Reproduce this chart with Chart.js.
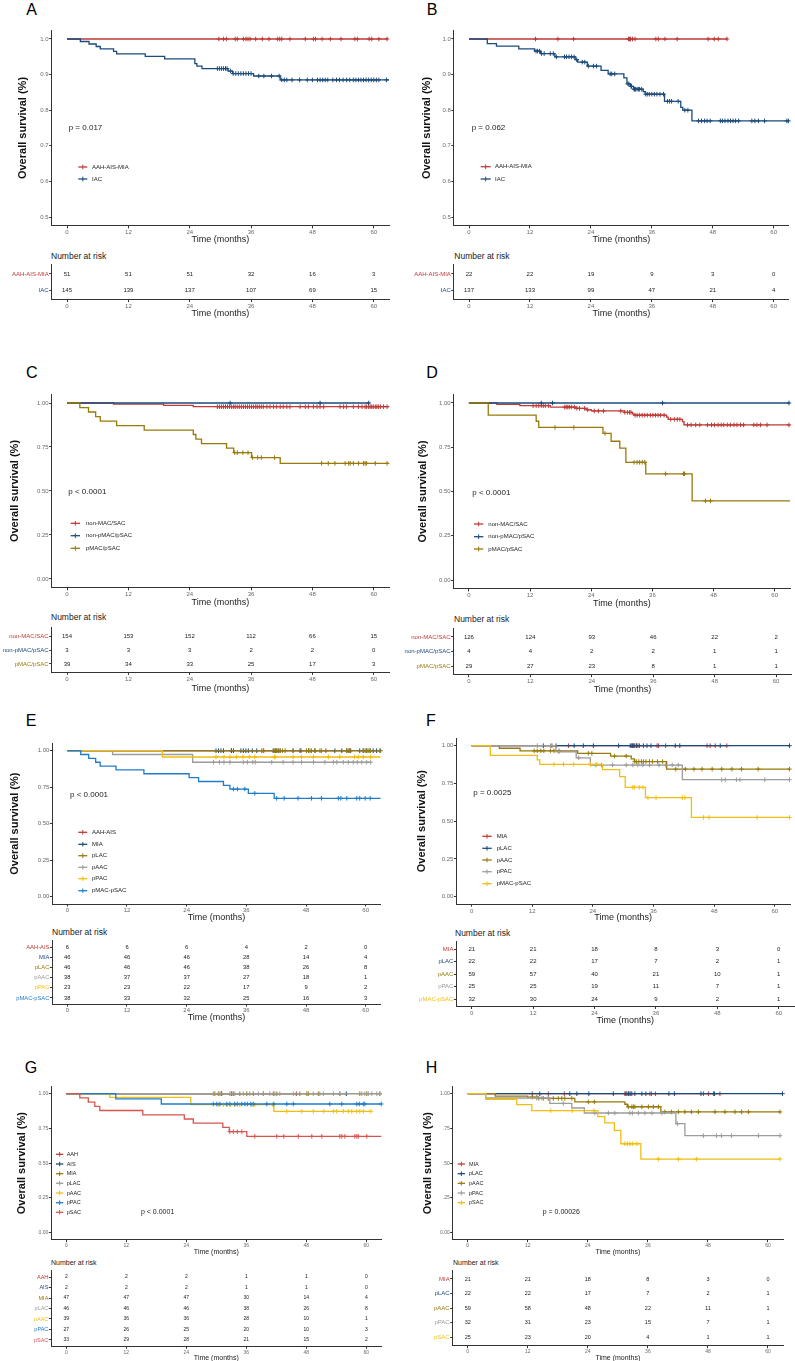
<!DOCTYPE html>
<html><head><meta charset="utf-8">
<script src="https://cdn.jsdelivr.net/npm/chart.js@4.4.1/dist/chart.umd.min.js"></script>
<style>
html,body{margin:0;padding:0;background:#fff}
body{width:795px;height:1361px;position:relative;overflow:hidden;font-family:"Liberation Sans",Arial,Helvetica,sans-serif}
canvas{position:absolute}
.t{position:absolute;white-space:nowrap;color:#1a1a1a;line-height:1.2}
.lt{position:absolute;white-space:nowrap;color:#000;font-size:16px;line-height:1;transform:translate(-50%,-50%)}
</style></head><body>
<script>
// ===== DATA =====
const xTickVals=[0,12,24,36,48,60];
const riskTimes=[0,12,24,36,48,60];

// Panel A
const A_groups=['AAH-AIS-MIA','IAC'];
const A1_time=[0,62.8], A1_surv=[1,1];
const A1_cens=[29.7,30.6,31.2,32.9,33.3,34.5,35.0,35.4,35.8,36.9,38.2,39.5,41.2,41.6,42.0,43.6,46.6,48.2,48.6,49.9,51.5,53.6,56.3,56.8,59.1,59.6,61.0,62.6];
const A2_time=[0,2.6,4.3,5.7,6.5,9.1,9.7,15.3,19.1,25.0,25.4,26.4,31.5,32.4,36.5,41.7,63];
const A2_surv=[1,0.993,0.986,0.979,0.972,0.965,0.958,0.951,0.944,0.931,0.924,0.917,0.910,0.903,0.896,0.885,0.885];
const A2_cens=[29.4,29.8,30.2,30.6,31.0,31.3,32.0,32.5,33.0,33.5,34.0,34.5,35.0,35.5,36.0,37.5,38.5,40.0,41.5,42.0,42.5,43.0,44.0,45.5,47.0,48.0,49.0,49.5,50.0,50.5,51.0,52.0,52.7,53.3,54.0,54.7,55.3,56.0,56.5,57.0,57.5,58.0,58.5,59.0,59.5,60.0,60.5,61.0,62.5];
const A_risk1=[51,51,51,32,16,3], A_risk2=[145,139,137,107,69,15];

// Panel B
const B_groups=['AAH-AIS-MIA','IAC'];
const B1_time=[0,50.9], B1_surv=[1,1];
const B1_cens=[13.1,17.5,20.6,31.4,31.6,31.8,32.2,32.7,36.8,37.3,38.6,41.0,47.1,48.3,49.1,50.8];
const B2_time=[0,3.6,5.4,9.8,12.9,14.1,16.9,20.9,21.4,23.3,26.0,27.4,30.5,31.1,31.8,32.4,34.3,34.7,38.5,41.7,42.1,43.9,63];
const B2_surv=[1,0.987,0.980,0.972,0.966,0.959,0.950,0.942,0.935,0.924,0.912,0.902,0.891,0.874,0.867,0.859,0.852,0.845,0.825,0.808,0.800,0.770,0.770];
const B2_cens=[13.2,13.5,13.9,14.3,14.8,16.0,16.6,17.2,18.8,19.2,19.7,20.2,20.7,21.2,22.3,22.8,23.5,24.5,25.1,27.8,28.1,28.7,31.3,31.5,31.9,32.0,32.5,32.6,32.8,33.1,33.4,33.6,34.0,34.8,35.1,35.5,36.0,36.5,37.0,37.6,38.3,39.1,39.5,39.9,41.2,42.5,43.1,45.2,45.8,46.4,46.9,47.5,49.5,49.9,50.4,51.0,51.5,52.0,52.5,53.1,55.7,56.3,57.0,58.2,62.6,62.9];
const B_risk1=[22,22,19,9,3,0], B_risk2=[137,133,99,47,21,4];

// Panel C
const C_groups=['non-MAC/SAC','non-pMAC/pSAC','pMAC/pSAC'];
const C1_time=[0,9.1,18.9,24.7,63], C1_surv=[1,0.994,0.987,0.979,0.979];
const C1_cens=[29.4,29.8,30.2,30.6,31.0,31.4,31.8,32.2,32.6,32.9,33.3,33.7,34.1,34.5,34.9,35.3,35.7,36.1,36.5,36.9,37.2,37.6,38.0,38.4,39.1,39.7,40.4,41.0,41.7,42.3,43.0,43.6,45.6,46.6,47.2,48.2,48.9,49.5,50.2,53.4,54.1,54.7,56.0,57.0,57.7,58.3,58.6,59.0,59.3,59.6,59.9,60.3,60.6,60.9,61.3,61.9,62.6];
const C2_time=[0,59.2], C2_surv=[1,1];
const C2_cens=[31.9,49.5,59.0];
const C3_time=[0,2.5,4.2,5.6,6.5,9.7,15.1,24.7,25.2,26.3,31.2,32.6,36.1,41.7,63];
const C3_surv=[1,0.974,0.949,0.923,0.897,0.872,0.846,0.821,0.795,0.769,0.744,0.718,0.690,0.657,0.657];
const C3_cens=[32.8,33.3,34.4,35.4,36.3,37.3,38.0,40.6,49.8,51.1,52.4,54.4,55.1,55.4,56.0,57.0,58.0,58.3,58.6,60.3,62.6];
const C_risk1=[154,153,152,112,66,15], C_risk2=[3,3,3,2,2,0], C_risk3=[39,34,33,25,17,3];

// Panel D
const D_groups=['non-MAC/SAC','non-pMAC/pSAC','pMAC/pSAC'];
const D1_time=[0,5.5,10.0,16.0,21.0,23.0,24.0,30.5,32.1,32.4,38.8,39.1,41.9,42.2,63];
const D1_surv=[1,0.992,0.985,0.977,0.970,0.962,0.955,0.947,0.939,0.931,0.920,0.908,0.895,0.876,0.876];
const D1_cens=[12.6,13.2,13.7,14.2,14.6,15.0,15.6,18.8,19.1,19.4,19.7,20.1,20.7,21.2,21.7,22.7,23.3,24.6,25.4,26.4,29.8,30.6,31.1,31.5,31.8,32.6,33.0,33.5,34.0,34.5,35.0,35.6,36.1,36.6,37.1,37.6,38.3,39.6,40.3,40.9,41.4,42.9,43.6,44.5,45.3,46.8,47.6,48.2,48.9,49.5,50.0,50.7,51.3,52.0,52.6,53.3,53.9,55.9,56.5,57.2,58.5,62.8];
const D2_time=[0,62.9], D2_surv=[1,1];
const D2_cens=[14.2,16.4,38.0,62.8];
const D3_time=[0,3.8,13.2,13.7,26.3,27.9,29.6,30.8,34.7,43.8,63];
const D3_surv=[1,0.931,0.897,0.862,0.828,0.784,0.745,0.665,0.600,0.447,0.447];
const D3_cens=[16.9,20.6,26.7,32.4,33.0,33.5,34.0,34.5,38.6,42.1,42.3,46.4,47.4];
const D_risk1=[126,124,93,46,22,2], D_risk2=[4,4,2,2,1,1], D_risk3=[29,27,23,8,1,1];

// Panel E
const E_groups=['AAH-AIS','MIA','pLAC','pAAC','pPAC','pMAC-pSAC'];
const E1_time=[0,57], E1_surv=[1,1];
const E1_cens=[33.0,39.5,42.0,47.0,52.0,57.0];
const E2_time=[0,63], E2_surv=[1,1];
const E2_cens=[29.9,30.4,30.9,31.4,33.0,33.4,34.9,35.4,35.9,36.4,37.2,38.1,41.4,41.8,42.4,42.8,45.4,46.8,48.5,49.8,53.8,55.2,56.2,56.8,58.8,59.5,60.2,60.9,61.5,62.2,62.9];
const E3_time=[0,63], E3_surv=[1,1];
const E3_cens=[39.1,39.4,41.6,42.1,42.4,42.8,43.3,43.8,45.4,48.1,48.5,48.8,49.1,49.8,50.8,51.1,56.2,56.5,56.8,59.5,59.9,60.2,60.5,60.9,62.9];
const E4_time=[0,9.1,25.2,61.0], E4_surv=[1,0.974,0.921,0.921];
const E4_cens=[29.4,30.6,31.5,32.7,35.4,36.2,37.3,37.8,41.1,43.4,45.4,47.1,49.5,51.8,53.5,54.2,55.5,56.5,57.5,58.3,59.2,60.2,61.0];
const E5_time=[0,19.1,63], E5_surv=[1,0.957,0.957];
const E5_cens=[29.9,31.5,32.7,34.0,35.3,36.6,37.7,41.6,41.8,45.4,47.1,49.5,52.5,54.8,57.8,58.5,59.5,61.0];
const E6_time=[0,2.7,4.3,5.7,6.6,9.8,15.4,24.5,26.4,31.4,32.7,36.4,41.6,63];
const E6_surv=[1,0.974,0.947,0.921,0.895,0.868,0.842,0.816,0.789,0.763,0.737,0.708,0.674,0.674];
const E6_cens=[33.4,34.2,35.7,37.7,42.1,43.6,46.4,49.1,51.1,54.5,55.0,56.2,58.2,58.8,59.9,60.9];
const E_risk1=[6,6,6,4,2,0], E_risk2=[46,46,46,28,14,4], E_risk3=[46,46,46,38,26,8], E_risk4=[38,37,37,27,18,1], E_risk5=[23,23,22,17,9,2], E_risk6=[38,33,32,25,16,3];

// Panel F
const F_groups=['MIA','pLAC','pAAC','pPAC','pMAC-pSAC'];
const F1_time=[0,50.5], F1_surv=[1,1];
const F1_cens=[15.9,19.2,31.6,31.9,32.2,32.6,32.9,36.7,37.0,38.4,46.6,47.2,48.2,50.5];
const F2_time=[0,63], F2_surv=[1,1];
const F2_cens=[14.2,16.7,20.3,22.1,24.1,29.1,31.4,31.8,32.1,32.6,33.2,34.0,34.7,35.5,40.3,41.2,49.2,62.9];
const F3_time=[0,5.5,9.6,21.0,27.5,31.6,32.2,38.6,63];
const F3_surv=[1,0.983,0.966,0.949,0.931,0.913,0.895,0.845,0.845];
const F3_cens=[12.4,13.0,13.7,14.3,15.6,16.3,17.3,23.1,23.8,28.3,30.6,32.3,32.6,33.1,33.6,34.0,34.5,35.2,35.8,36.8,37.8,40.4,42.3,44.0,45.6,47.6,49.5,51.5,53.4,56.7,62.9];
const F4_time=[0,16.7,20.7,23.5,41.7,63];
const F4_surv=[1,0.960,0.920,0.872,0.775,0.775];
const F4_cens=[13.0,15.6,17.3,21.2,24.6,25.7,27.9,30.6,31.9,32.9,33.9,35.2,37.1,38.4,39.7,40.9,49.5,50.2,52.4,53.1,58.0,62.9];
const F5_time=[0,3.7,13.0,13.5,25.9,29.3,30.4,34.4,43.5,63];
const F5_surv=[1,0.936,0.906,0.876,0.841,0.795,0.724,0.656,0.525,0.525];
const F5_cens=[16.3,18.2,20.2,23.5,24.8,31.9,32.2,33.2,33.9,34.9,36.5,41.7,42.2,45.9,47.0,56.5,62.9];
const F_risk1=[21,21,18,8,3,0], F_risk2=[22,22,17,7,2,1], F_risk3=[59,57,40,21,10,1], F_risk4=[25,25,19,11,7,1], F_risk5=[32,30,24,9,2,1];

// Panel G
const G_groups=['AAH','AIS','MIA','pLAC','pAAC','pPAC','pSAC'];
const G1_time=[0,46], G1_surv=[1,1], G1_cens=[33,46];
const G2_time=[0,56], G2_surv=[1,1], G2_cens=[31,56];
const G3_time=[0,63], G3_surv=[1,1];
const G3_cens=[29.7,30.4,31.1,33.1,33.4,34.7,36.1,37.4,39.4,41.4,42.1,46.7,48.1,48.4,50.4,54.7,58.7,60.1,62.7];
const G4_time=[0,63], G4_surv=[1,1];
const G4_cens=[29.4,30.7,32.7,33.7,35.4,36.7,38.4,39.4,40.7,41.7,42.7,45.4,49.4,50.7,51.4,53.4,54.7,59.1,59.7,60.4,61.1,62.1,62.7];
const G5_time=[0,8.7,24.9,41.5,60.9], G5_surv=[1,0.974,0.921,0.873,0.873];
const G5_cens=[30.4,31.4,32.1,32.9,33.7,34.7,37.1,37.7,41.3,44.1,47.1,49.4,51.5,53.4,54.1,55.4,56.4,57.1,58.1,58.7,59.4,60.9];
const G6_time=[0,9.9,19.0,63], G6_surv=[1,0.963,0.926,0.926];
const G6_cens=[29.4,30.1,30.7,32.1,32.7,33.7,34.2,35.1,35.7,36.2,36.9,37.4,40.1,41.5,44.1,45.4,52.7,55.1,58.1,58.6,59.4,59.7,63];
const G7_time=[0,2.7,4.4,5.7,6.7,15.3,23.6,25.4,31.3,32.6,36.1,63];
const G7_surv=[1,0.970,0.939,0.909,0.879,0.848,0.818,0.788,0.758,0.727,0.693,0.693];
const G7_cens=[32.7,33.4,34.2,35.1,37.7,42.1,43.5,46.4,49.1,51.1,54.7,55.1,55.7,57.7,58.1,58.4,60.1];
const G_risk1=[2,2,2,1,1,0], G_risk2=[2,2,2,1,1,0], G_risk3=[47,47,47,30,14,4], G_risk4=[46,46,46,38,26,8], G_risk5=[39,36,36,28,10,1], G_risk6=[27,26,25,20,10,3], G_risk7=[33,29,28,21,15,2];

// Panel H
const H_groups=['MIA','pLAC','pAAC','pPAC','pSAC'];
const H1_time=[0,50.4], H1_surv=[1,1];
const H1_cens=[12.9,16.1,19.3,31.4,31.8,32.1,32.4,32.8,36.4,36.7,37.5,47.1,48.1,49.1,50.4];
const H2_time=[0,62.9], H2_surv=[1,1];
const H2_cens=[14.4,20.4,21.8,24.2,29.1,31.6,32.1,32.6,33.4,34.8,35.6,40.2,41.3,46.6,49.3,62.9];
const H3_time=[0,5.5,12.0,14.0,21.4,31.4,31.9,38.6,62.5];
const H3_surv=[1,0.983,0.975,0.966,0.941,0.924,0.906,0.869,0.869];
const H3_cens=[12.9,13.8,14.2,15.1,16.1,17.1,18.1,18.8,19.4,20.8,24.1,25.3,32.1,32.8,33.1,33.4,34.8,36.1,37.1,38.1,39.4,40.7,42.1,43.4,44.7,46.1,49.4,51.4,53.4,54.7,56.1,62.4];
const H4_time=[0,3.6,16.4,20.8,23.3,41.6,43.4,62.4];
const H4_surv=[1,0.969,0.930,0.897,0.861,0.784,0.698,0.698];
const H4_cens=[13.8,14.8,16.1,19.1,25.4,28.1,29.4,32.4,32.9,34.1,35.4,36.8,38.8,41.9,47.1,49.7,50.7,52.7,58.1,62.4];
const H5_time=[0,3.6,9.8,12.8,26.0,27.4,29.3,30.6,34.6,62.4];
const H5_surv=[1,0.960,0.921,0.878,0.835,0.790,0.736,0.640,0.530,0.530];
const H5_cens=[16.6,20.9,25.2,31.4,31.9,32.4,32.9,33.8,38.1,42.1,45.7,62.4];
const H_risk1=[21,21,18,8,3,0], H_risk2=[22,22,17,7,2,1], H_risk3=[59,58,48,22,11,1], H_risk4=[32,31,23,15,7,1], H_risk5=[25,23,20,4,1,1];

const yLab1=['0.5','0.6','0.7','0.8','0.9','1.0'], yVal1=[0.5,0.6,0.7,0.8,0.9,1.0];
const yLab2=['0.00','0.25','0.50','0.75','1.00'], yVal2=[0,0.25,0.5,0.75,1];
const yLabH=['0.00','.25','.50','.75','1.00'];

// ===== STYLE / LAYOUT =====
const FONT='"Liberation Sans", Arial, Helvetica, sans-serif';
Chart.defaults.font.family=FONT;
const RED='#BE3A36', NAVY='#1B4B7C', OLIVE='#977A0B', GRAY='#9C9C9C', YELLOW='#F0BE12', BLUE='#1E7CCB', SALMON='#D8554F';
const AXC='#333333', TICKC='#6a6a6a';

const panels=[
 {letter:'A',groups:A_groups,colors:[RED,NAVY],curves:[[A1_time,A1_surv,A1_cens],[A2_time,A2_surv,A2_cens]],risk:[A_risk1,A_risk2],pval:'p = 0.017',
  L:{lx:31.7,ly:10,cl:0,cw:397,axX:51.7,axR:389.1,top:30.1,bottom:225.9,ymin:0.475,ymax:1.025,yv:yVal1,yl:yLab1,xTitleY:239,yTitleX:23,tick:6,xt:9,
     legX1:78.3,legX2:87.3,legTX:92,legY:[167,179],legS:6,px:68.7,py:127.7,pS:8,
     rTop:264.4,rBot:299.6,rTitleY:313,narX:51,narY:256,narS:8.5,numS:6,labS:6}},
 {letter:'B',groups:B_groups,colors:[RED,NAVY],curves:[[B1_time,B1_surv,B1_cens],[B2_time,B2_surv,B2_cens]],risk:[B_risk1,B_risk2],pval:'p = 0.062',
  L:{lx:432,ly:10,cl:397,cw:398,axX:453.8,axR:788.9,top:30.1,bottom:225.9,ymin:0.475,ymax:1.025,yv:yVal1,yl:yLab1,xTitleY:239.3,yTitleX:427,tick:6,xt:9,
     legX1:480.7,legX2:490.7,legTX:495,legY:[166.7,179],legS:6,px:471.7,py:128,pS:8,
     rTop:264.4,rBot:299.6,rTitleY:313,narX:454.3,narY:255.7,narS:8.5,numS:6,labS:6}},
 {letter:'C',groups:C_groups,colors:[RED,NAVY,OLIVE],curves:[[C1_time,C1_surv,C1_cens],[C2_time,C2_surv,C2_cens],[C3_time,C3_surv,C3_cens]],risk:[C_risk1,C_risk2,C_risk3],pval:'p < 0.0001',
  L:{lx:31.7,ly:373,cl:0,cw:397,axX:51.7,axR:389.1,top:394.2,bottom:587.8,ymin:-0.05,ymax:1.05,yv:yVal2,yl:yLab2,xTitleY:602,yTitleX:15,tick:6,xt:9,
     legX1:70.7,legX2:80,legTX:86,legY:[523.3,535.7,548.3],legS:6,px:68.3,py:492,pS:8,
     rTop:627.6,rBot:672.4,rTitleY:688,narX:51,narY:617,narS:8.5,numS:6,labS:6}},
 {letter:'D',groups:D_groups,colors:[RED,NAVY,OLIVE],curves:[[D1_time,D1_surv,D1_cens],[D2_time,D2_surv,D2_cens],[D3_time,D3_surv,D3_cens]],risk:[D_risk1,D_risk2,D_risk3],pval:'p < 0.0001',
  L:{lx:432,ly:373,cl:397,cw:398,axX:453.6,axR:791.4,top:394.15,bottom:588.85,ymin:-0.05,ymax:1.05,yv:yVal2,yl:yLab2,xTitleY:602.7,yTitleX:423,tick:6,xt:9,
     legX1:474,legX2:483.3,legTX:488.3,legY:[524,536.7,549],legS:6,px:472.3,py:492.7,pS:8,
     rTop:628.3,rBot:674.7,rTitleY:689,narX:454,narY:619,narS:8.5,numS:6,labS:6}},
 {letter:'E',groups:E_groups,colors:[RED,NAVY,OLIVE,GRAY,YELLOW,BLUE],curves:[[E1_time,E1_surv,E1_cens],[E2_time,E2_surv,E2_cens],[E3_time,E3_surv,E3_cens],[E4_time,E4_surv,E4_cens],[E5_time,E5_surv,E5_cens],[E6_time,E6_surv,E6_cens]],risk:[E_risk1,E_risk2,E_risk3,E_risk4,E_risk5,E_risk6],pval:'p < 0.0001',
  L:{lx:31,ly:721,cl:0,cw:397,axX:52.4,axR:380.6,top:743.4,bottom:904,ymin:-0.05,ymax:1.05,yv:yVal2,yl:yLab2,xTitleY:917,yTitleX:15.3,tick:6,xt:9,
     legX1:78.3,legX2:87.3,legTX:92,legY:[832.3,844.3,855.7,867.3,878.7,890.7],legS:6,px:70,py:794.3,pS:8,
     rTop:940.9,rBot:1004.1,rTitleY:1017,narX:52,narY:932,narS:8.5,numS:5.8,labS:5.8}},
 {letter:'F',groups:F_groups,colors:[RED,NAVY,OLIVE,GRAY,YELLOW],curves:[[F1_time,F1_surv,F1_cens],[F2_time,F2_surv,F2_cens],[F3_time,F3_surv,F3_cens],[F4_time,F4_surv,F4_cens],[F5_time,F5_surv,F5_cens]],risk:[F_risk1,F_risk2,F_risk3,F_risk4,F_risk5],pval:'p = 0.0025',
  L:{lx:431,ly:721,cl:397,cw:398,axX:456.4,axR:794.1,top:738.15,bottom:904.25,ymin:-0.05,ymax:1.05,yv:yVal2,yl:yLab2,xTitleY:917,yTitleX:421.7,tick:6,xt:9,
     legX1:482.3,legX2:491.7,legTX:496.7,legY:[836.3,848.3,860,871.7,883.7],legS:6,px:473.3,py:792.3,pS:8,
     rTop:941.5,rBot:1006.5,rTitleY:1020,narX:455,narY:933,narS:8.5,numS:6,labS:6}},
 {letter:'G',groups:G_groups,colors:[RED,NAVY,OLIVE,GRAY,YELLOW,BLUE,SALMON],curves:[[G1_time,G1_surv,G1_cens],[G2_time,G2_surv,G2_cens],[G3_time,G3_surv,G3_cens],[G4_time,G4_surv,G4_cens],[G5_time,G5_surv,G5_cens],[G6_time,G6_surv,G6_cens],[G7_time,G7_surv,G7_cens]],risk:[G_risk1,G_risk2,G_risk3,G_risk4,G_risk5,G_risk6,G_risk7],pval:'p < 0.0001',
  L:{lx:31,ly:1067.5,cl:0,cw:397,axX:51.3,axR:381.3,top:1086.75,bottom:1239.65,ymin:-0.05,ymax:1.05,yv:yVal2,yl:yLab2,xTitleY:1251,yTitleX:21.7,tick:5,xt:7,
     legX1:56,legX2:63.3,legTX:66.7,legY:[1154.3,1164,1173.7,1183.3,1193,1202.7,1212.3],legS:5.5,px:141,py:1212,pS:7,
     rTop:1270.7,rBot:1346.3,rTitleY:1357,narX:51,narY:1263,narS:7,numS:5,labS:5.5}},
 {letter:'H',groups:H_groups,colors:[RED,NAVY,OLIVE,GRAY,YELLOW],curves:[[H1_time,H1_surv,H1_cens],[H2_time,H2_surv,H2_cens],[H3_time,H3_surv,H3_cens],[H4_time,H4_surv,H4_cens],[H5_time,H5_surv,H5_cens]],risk:[H_risk1,H_risk2,H_risk3,H_risk4,H_risk5],pval:'p = 0.00026',
  L:{lx:431.5,ly:1068,cl:397,cw:398,axX:452.7,axR:783.0,top:1086.75,bottom:1239.65,ymin:-0.05,ymax:1.05,yv:yVal2,yl:yLabH,xTitleY:1251,yTitleX:428,tick:5,xt:7,
     legX1:457.7,legX2:465,legTX:469,legY:[1164,1173.7,1183.3,1193,1202.7],legS:5.5,px:542.7,py:1212,pS:7,
     rTop:1270.3,rBot:1345.7,rTitleY:1357,narX:453,narY:1263,narS:7,numS:5.5,labS:6}}
];

// ===== HELPERS =====
function stepVal(times,surv,t){let v=surv[0];for(let i=0;i<times.length;i++){if(times[i]<=t)v=surv[i];}return v;}
function addCanvas(left,top,w,h){
  const c=document.createElement('canvas');
  c.width=Math.round(w);c.height=Math.round(h);
  c.style.left=left+'px';c.style.top=top+'px';
  c.style.width=Math.round(w)+'px';c.style.height=Math.round(h)+'px';
  document.body.appendChild(c);return c;
}
function addText(txt,cls,style){
  const d=document.createElement('div');d.className=cls;d.textContent=txt;
  Object.assign(d.style,style);document.body.appendChild(d);return d;
}
function axisCommon(L){
  return {
    grid:{display:true,drawOnChartArea:false,drawTicks:true,tickLength:2.5,color:AXC,lineWidth:1},
    border:{display:true,color:AXC,width:1}
  };
}

function kmChart(P){
  const L=P.L,cl=L.cl,cw=L.cw,n=P.groups.length;
  const ct=Math.floor(L.top-6);
  const cb=Math.ceil(L.xTitleY+0.6*L.xt);
  const cv=addCanvas(cl,ct,cw,cb-ct);
  const datasets=[];
  P.curves.forEach((c,gi)=>{
    const [t,s,cz]=c;
    datasets.push({label:P.groups[gi],data:t.map((x,i)=>({x:x,y:s[i]})),showLine:true,stepped:true,
      borderColor:P.colors[gi],backgroundColor:P.colors[gi],borderWidth:1.3,pointRadius:0,fill:false,order:n-gi,clip:false});
    datasets.push({label:P.groups[gi]+' (censored)',data:cz.map(x=>({x:x,y:stepVal(t,s,x)})),showLine:false,
      pointStyle:'cross',pointRadius:2.3,borderColor:P.colors[gi],backgroundColor:P.colors[gi],pointBorderWidth:1,borderWidth:1,order:n-gi,clip:false});
  });
  const extras={id:'kmExtras'+P.letter,afterDraw(chart){
    const ctx=chart.ctx;ctx.save();
    P.groups.forEach((g,gi)=>{
      const y=L.legY[gi]-ct,x1=L.legX1-cl,x2=L.legX2-cl,xm=(x1+x2)/2;
      ctx.strokeStyle=P.colors[gi];ctx.lineWidth=1.3;
      ctx.beginPath();ctx.moveTo(x1,y);ctx.lineTo(x2,y);ctx.stroke();
      ctx.lineWidth=1;ctx.beginPath();ctx.moveTo(xm,y-2.3);ctx.lineTo(xm,y+2.3);ctx.stroke();
      ctx.fillStyle='#222';ctx.font=L.legS+'px '+FONT;ctx.textAlign='left';ctx.textBaseline='middle';
      ctx.fillText(g,L.legTX-cl,y);
    });
    ctx.fillStyle='#222';ctx.font=L.pS+'px '+FONT;ctx.textAlign='left';ctx.textBaseline='middle';
    ctx.fillText(P.pval,L.px-cl,L.py-ct);
    ctx.restore();
  }};
  const ac=axisCommon(L);
  new Chart(cv,{type:'scatter',data:{datasets},options:{
    responsive:false,animation:false,devicePixelRatio:1,events:[],
    layout:{padding:{left:0,top:L.top-ct,right:cl+cw-L.axR,bottom:0}},
    plugins:{legend:{display:false},tooltip:{enabled:false}},
    scales:{
      x:{type:'linear',min:-3,max:63,
        afterBuildTicks:s=>{s.ticks=xTickVals.map(v=>({value:v}));},
        afterFit:s=>{s.height=cb-L.bottom;},
        ticks:{font:{size:L.tick},color:TICKC,padding:0.5,maxRotation:0,autoSkip:false,callback:v=>String(v)},
        grid:ac.grid,border:ac.border,
        title:{display:true,text:'Time (months)',font:{size:L.xt},color:'#222',padding:{top:0,bottom:0}}},
      y:{type:'linear',min:L.ymin,max:L.ymax,
        afterBuildTicks:s=>{s.ticks=L.yv.map(v=>({value:v}));},
        afterFit:s=>{s.width=L.axX-cl;},
        ticks:{font:{size:L.tick},color:TICKC,padding:0.5,autoSkip:false,callback:(v,i)=>L.yl[i]},
        grid:ac.grid,border:ac.border,
        title:{display:true,text:'Overall survival (%)',font:{size:11,weight:'bold'},color:'#111',padding:{top:L.yTitleX-cl-6.6,bottom:0}}}
    }
  },plugins:[extras]});
}

function riskChart(P){
  const L=P.L,cl=L.cl,cw=L.cw,n=P.groups.length;
  const ct=Math.floor(L.rTop-5);
  const cb=Math.ceil(L.rTitleY+0.6*L.xt);
  const cv=addCanvas(cl,ct,cw,cb-ct);
  const nums={id:'riskNums'+P.letter,afterDraw(chart){
    const ctx=chart.ctx,xs=chart.scales.x,ys=chart.scales.y;ctx.save();
    ctx.fillStyle='#1a1a1a';ctx.font=L.numS+'px '+FONT;ctx.textAlign='center';ctx.textBaseline='middle';
    P.risk.forEach((row,ri)=>{row.forEach((v,j)=>{ctx.fillText(String(v),xs.getPixelForValue(riskTimes[j]),ys.getPixelForValue(ri));});});
    ctx.restore();
  }};
  const ac=axisCommon(L);
  new Chart(cv,{type:'scatter',data:{datasets:[{label:'risk',data:[]}]},options:{
    responsive:false,animation:false,devicePixelRatio:1,events:[],
    layout:{padding:{left:0,top:L.rTop-ct,right:cl+cw-L.axR,bottom:0}},
    plugins:{legend:{display:false},tooltip:{enabled:false}},
    scales:{
      x:{type:'linear',min:-3,max:63,
        afterBuildTicks:s=>{s.ticks=xTickVals.map(v=>({value:v}));},
        afterFit:s=>{s.height=cb-L.rBot;},
        ticks:{font:{size:L.tick},color:TICKC,padding:0.5,maxRotation:0,autoSkip:false,callback:v=>String(v)},
        grid:ac.grid,border:ac.border,
        title:{display:true,text:'Time (months)',font:{size:L.xt},color:'#222',padding:{top:0,bottom:0}}},
      y:{type:'linear',reverse:true,min:-0.6,max:n-0.4,
        afterBuildTicks:s=>{s.ticks=P.groups.map((g,i)=>({value:i}));},
        afterFit:s=>{s.width=L.axX-cl;},
        ticks:{font:{size:L.labS},color:(c)=>P.colors[c.index],padding:0.5,autoSkip:false,callback:(v,i)=>P.groups[i]},
        grid:ac.grid,border:ac.border}
    }
  },plugins:[nums]});
}

panels.forEach(P=>{
  const L=P.L;
  addText(P.letter,'lt',{left:L.lx+'px',top:L.ly+'px'});
  addText('Number at risk','t',{left:L.narX+'px',top:(L.narY-0.6*L.narS)+'px',fontSize:L.narS+'px'});
  kmChart(P);
  riskChart(P);
});
</script>
</body></html>
